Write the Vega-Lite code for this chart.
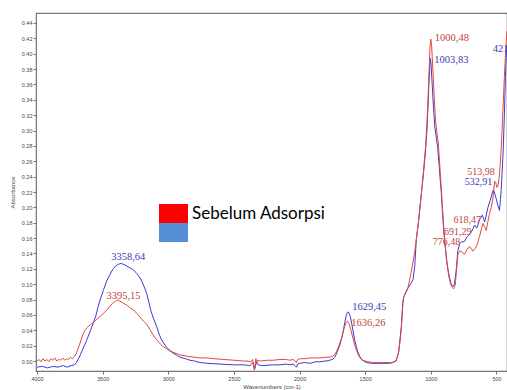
{
  "$schema": "https://vega.github.io/schema/vega-lite/v6.json",
  "width": 471,
  "height": 358,
  "autosize": "none",
  "padding": {"left": 36, "top": 13, "right": 0, "bottom": 19},
  "background": "white",
  "config": {"view": {"stroke": "#777", "strokeWidth": 1.2}, "font": "Liberation Sans"},
  "datasets": {
    "spectra": [
      {"s":"Sesudah Adsorpsi","wn":4000,"A":-0.008},{"s":"Sesudah Adsorpsi","wn":3960,"A":-0.007},{"s":"Sesudah Adsorpsi","wn":3920,"A":-0.009},{"s":"Sesudah Adsorpsi","wn":3880,"A":-0.007},{"s":"Sesudah Adsorpsi","wn":3840,"A":-0.008},{"s":"Sesudah Adsorpsi","wn":3800,"A":-0.006},{"s":"Sesudah Adsorpsi","wn":3770,"A":-0.008},{"s":"Sesudah Adsorpsi","wn":3740,"A":-0.006},{"s":"Sesudah Adsorpsi","wn":3715,"A":-0.005},{"s":"Sesudah Adsorpsi","wn":3700,"A":-0.002},{"s":"Sesudah Adsorpsi","wn":3688,"A":0.002},{"s":"Sesudah Adsorpsi","wn":3670,"A":0.008},{"s":"Sesudah Adsorpsi","wn":3658,"A":0.013},{"s":"Sesudah Adsorpsi","wn":3640,"A":0.02},{"s":"Sesudah Adsorpsi","wn":3622,"A":0.027},{"s":"Sesudah Adsorpsi","wn":3597,"A":0.038},{"s":"Sesudah Adsorpsi","wn":3572,"A":0.049},{"s":"Sesudah Adsorpsi","wn":3550,"A":0.06},{"s":"Sesudah Adsorpsi","wn":3536,"A":0.07},{"s":"Sesudah Adsorpsi","wn":3515,"A":0.082},{"s":"Sesudah Adsorpsi","wn":3495,"A":0.092},{"s":"Sesudah Adsorpsi","wn":3470,"A":0.104},{"s":"Sesudah Adsorpsi","wn":3444,"A":0.113},{"s":"Sesudah Adsorpsi","wn":3420,"A":0.12},{"s":"Sesudah Adsorpsi","wn":3400,"A":0.124},{"s":"Sesudah Adsorpsi","wn":3380,"A":0.126},{"s":"Sesudah Adsorpsi","wn":3358.64,"A":0.127},{"s":"Sesudah Adsorpsi","wn":3330,"A":0.125},{"s":"Sesudah Adsorpsi","wn":3300,"A":0.122},{"s":"Sesudah Adsorpsi","wn":3270,"A":0.119},{"s":"Sesudah Adsorpsi","wn":3240,"A":0.114},{"s":"Sesudah Adsorpsi","wn":3215,"A":0.108},{"s":"Sesudah Adsorpsi","wn":3200,"A":0.103},{"s":"Sesudah Adsorpsi","wn":3180,"A":0.095},{"s":"Sesudah Adsorpsi","wn":3165,"A":0.088},{"s":"Sesudah Adsorpsi","wn":3148,"A":0.076},{"s":"Sesudah Adsorpsi","wn":3132,"A":0.065},{"s":"Sesudah Adsorpsi","wn":3110,"A":0.054},{"s":"Sesudah Adsorpsi","wn":3089,"A":0.045},{"s":"Sesudah Adsorpsi","wn":3070,"A":0.035},{"s":"Sesudah Adsorpsi","wn":3056,"A":0.029},{"s":"Sesudah Adsorpsi","wn":3035,"A":0.023},{"s":"Sesudah Adsorpsi","wn":3013,"A":0.018},{"s":"Sesudah Adsorpsi","wn":2990,"A":0.014},{"s":"Sesudah Adsorpsi","wn":2970,"A":0.011},{"s":"Sesudah Adsorpsi","wn":2940,"A":0.008},{"s":"Sesudah Adsorpsi","wn":2912,"A":0.005},{"s":"Sesudah Adsorpsi","wn":2870,"A":0.003},{"s":"Sesudah Adsorpsi","wn":2836,"A":0.001},{"s":"Sesudah Adsorpsi","wn":2800,"A":0.0},{"s":"Sesudah Adsorpsi","wn":2760,"A":-0.002},{"s":"Sesudah Adsorpsi","wn":2700,"A":-0.003},{"s":"Sesudah Adsorpsi","wn":2607,"A":-0.004},{"s":"Sesudah Adsorpsi","wn":2500,"A":-0.005},{"s":"Sesudah Adsorpsi","wn":2420,"A":-0.005},{"s":"Sesudah Adsorpsi","wn":2379,"A":-0.006},{"s":"Sesudah Adsorpsi","wn":2365,"A":-0.004},{"s":"Sesudah Adsorpsi","wn":2356,"A":-0.002},{"s":"Sesudah Adsorpsi","wn":2348,"A":-0.008},{"s":"Sesudah Adsorpsi","wn":2341,"A":-0.01},{"s":"Sesudah Adsorpsi","wn":2333,"A":-0.004},{"s":"Sesudah Adsorpsi","wn":2326,"A":-0.002},{"s":"Sesudah Adsorpsi","wn":2315,"A":-0.005},{"s":"Sesudah Adsorpsi","wn":2288,"A":-0.006},{"s":"Sesudah Adsorpsi","wn":2200,"A":-0.005},{"s":"Sesudah Adsorpsi","wn":2151,"A":-0.005},{"s":"Sesudah Adsorpsi","wn":2100,"A":-0.004},{"s":"Sesudah Adsorpsi","wn":2075,"A":-0.005},{"s":"Sesudah Adsorpsi","wn":2050,"A":-0.004},{"s":"Sesudah Adsorpsi","wn":2035,"A":-0.006},{"s":"Sesudah Adsorpsi","wn":2024,"A":-0.008},{"s":"Sesudah Adsorpsi","wn":2015,"A":-0.004},{"s":"Sesudah Adsorpsi","wn":1999,"A":-0.003},{"s":"Sesudah Adsorpsi","wn":1960,"A":-0.002},{"s":"Sesudah Adsorpsi","wn":1922,"A":-0.003},{"s":"Sesudah Adsorpsi","wn":1880,"A":-0.001},{"s":"Sesudah Adsorpsi","wn":1846,"A":-0.001},{"s":"Sesudah Adsorpsi","wn":1800,"A":0.0},{"s":"Sesudah Adsorpsi","wn":1771,"A":0.001},{"s":"Sesudah Adsorpsi","wn":1750,"A":0.002},{"s":"Sesudah Adsorpsi","wn":1732,"A":0.005},{"s":"Sesudah Adsorpsi","wn":1720,"A":0.009},{"s":"Sesudah Adsorpsi","wn":1709,"A":0.014},{"s":"Sesudah Adsorpsi","wn":1695,"A":0.02},{"s":"Sesudah Adsorpsi","wn":1681,"A":0.028},{"s":"Sesudah Adsorpsi","wn":1668,"A":0.038},{"s":"Sesudah Adsorpsi","wn":1656,"A":0.05},{"s":"Sesudah Adsorpsi","wn":1645,"A":0.059},{"s":"Sesudah Adsorpsi","wn":1636,"A":0.063},{"s":"Sesudah Adsorpsi","wn":1629.45,"A":0.064},{"s":"Sesudah Adsorpsi","wn":1620,"A":0.061},{"s":"Sesudah Adsorpsi","wn":1611,"A":0.056},{"s":"Sesudah Adsorpsi","wn":1602,"A":0.048},{"s":"Sesudah Adsorpsi","wn":1593,"A":0.039},{"s":"Sesudah Adsorpsi","wn":1580,"A":0.027},{"s":"Sesudah Adsorpsi","wn":1567,"A":0.018},{"s":"Sesudah Adsorpsi","wn":1555,"A":0.011},{"s":"Sesudah Adsorpsi","wn":1542,"A":0.006},{"s":"Sesudah Adsorpsi","wn":1527,"A":0.002},{"s":"Sesudah Adsorpsi","wn":1512,"A":0.0},{"s":"Sesudah Adsorpsi","wn":1490,"A":-0.002},{"s":"Sesudah Adsorpsi","wn":1450,"A":-0.003},{"s":"Sesudah Adsorpsi","wn":1390,"A":-0.003},{"s":"Sesudah Adsorpsi","wn":1314,"A":-0.003},{"s":"Sesudah Adsorpsi","wn":1290,"A":-0.002},{"s":"Sesudah Adsorpsi","wn":1265,"A":0.0},{"s":"Sesudah Adsorpsi","wn":1245,"A":0.012},{"s":"Sesudah Adsorpsi","wn":1225,"A":0.045},{"s":"Sesudah Adsorpsi","wn":1213,"A":0.078},{"s":"Sesudah Adsorpsi","wn":1205,"A":0.084},{"s":"Sesudah Adsorpsi","wn":1190,"A":0.089},{"s":"Sesudah Adsorpsi","wn":1174,"A":0.095},{"s":"Sesudah Adsorpsi","wn":1155,"A":0.1},{"s":"Sesudah Adsorpsi","wn":1136,"A":0.106},{"s":"Sesudah Adsorpsi","wn":1123,"A":0.123},{"s":"Sesudah Adsorpsi","wn":1111,"A":0.158},{"s":"Sesudah Adsorpsi","wn":1095,"A":0.18},{"s":"Sesudah Adsorpsi","wn":1080,"A":0.205},{"s":"Sesudah Adsorpsi","wn":1065,"A":0.23},{"s":"Sesudah Adsorpsi","wn":1050,"A":0.255},{"s":"Sesudah Adsorpsi","wn":1040,"A":0.275},{"s":"Sesudah Adsorpsi","wn":1030,"A":0.3},{"s":"Sesudah Adsorpsi","wn":1022,"A":0.33},{"s":"Sesudah Adsorpsi","wn":1015,"A":0.36},{"s":"Sesudah Adsorpsi","wn":1008,"A":0.385},{"s":"Sesudah Adsorpsi","wn":1003.83,"A":0.394},{"s":"Sesudah Adsorpsi","wn":998,"A":0.385},{"s":"Sesudah Adsorpsi","wn":990,"A":0.36},{"s":"Sesudah Adsorpsi","wn":980,"A":0.33},{"s":"Sesudah Adsorpsi","wn":970,"A":0.305},{"s":"Sesudah Adsorpsi","wn":958,"A":0.29},{"s":"Sesudah Adsorpsi","wn":948,"A":0.278},{"s":"Sesudah Adsorpsi","wn":935,"A":0.25},{"s":"Sesudah Adsorpsi","wn":922,"A":0.222},{"s":"Sesudah Adsorpsi","wn":910,"A":0.19},{"s":"Sesudah Adsorpsi","wn":900,"A":0.165},{"s":"Sesudah Adsorpsi","wn":890,"A":0.148},{"s":"Sesudah Adsorpsi","wn":875,"A":0.125},{"s":"Sesudah Adsorpsi","wn":860,"A":0.11},{"s":"Sesudah Adsorpsi","wn":845,"A":0.1},{"s":"Sesudah Adsorpsi","wn":832,"A":0.097},{"s":"Sesudah Adsorpsi","wn":820,"A":0.1},{"s":"Sesudah Adsorpsi","wn":806,"A":0.12},{"s":"Sesudah Adsorpsi","wn":794,"A":0.144},{"s":"Sesudah Adsorpsi","wn":780,"A":0.153},{"s":"Sesudah Adsorpsi","wn":768,"A":0.155},{"s":"Sesudah Adsorpsi","wn":755,"A":0.155},{"s":"Sesudah Adsorpsi","wn":743,"A":0.156},{"s":"Sesudah Adsorpsi","wn":730,"A":0.16},{"s":"Sesudah Adsorpsi","wn":718,"A":0.163},{"s":"Sesudah Adsorpsi","wn":705,"A":0.165},{"s":"Sesudah Adsorpsi","wn":692,"A":0.168},{"s":"Sesudah Adsorpsi","wn":680,"A":0.172},{"s":"Sesudah Adsorpsi","wn":667,"A":0.177},{"s":"Sesudah Adsorpsi","wn":650,"A":0.173},{"s":"Sesudah Adsorpsi","wn":640,"A":0.178},{"s":"Sesudah Adsorpsi","wn":629,"A":0.184},{"s":"Sesudah Adsorpsi","wn":618,"A":0.187},{"s":"Sesudah Adsorpsi","wn":608,"A":0.19},{"s":"Sesudah Adsorpsi","wn":598,"A":0.185},{"s":"Sesudah Adsorpsi","wn":590,"A":0.181},{"s":"Sesudah Adsorpsi","wn":578,"A":0.19},{"s":"Sesudah Adsorpsi","wn":565,"A":0.2},{"s":"Sesudah Adsorpsi","wn":552,"A":0.207},{"s":"Sesudah Adsorpsi","wn":540,"A":0.214},{"s":"Sesudah Adsorpsi","wn":530,"A":0.22},{"s":"Sesudah Adsorpsi","wn":522,"A":0.223},{"s":"Sesudah Adsorpsi","wn":512,"A":0.217},{"s":"Sesudah Adsorpsi","wn":502,"A":0.211},{"s":"Sesudah Adsorpsi","wn":490,"A":0.203},{"s":"Sesudah Adsorpsi","wn":477,"A":0.196},{"s":"Sesudah Adsorpsi","wn":470,"A":0.21},{"s":"Sesudah Adsorpsi","wn":464,"A":0.223},{"s":"Sesudah Adsorpsi","wn":450,"A":0.27},{"s":"Sesudah Adsorpsi","wn":440,"A":0.32},{"s":"Sesudah Adsorpsi","wn":432,"A":0.37},{"s":"Sesudah Adsorpsi","wn":426,"A":0.395},{"s":"Sesudah Adsorpsi","wn":421.72,"A":0.41},
      {"s":"Sebelum Adsorpsi","wn":4000,"A":0.0},{"s":"Sebelum Adsorpsi","wn":3985,"A":0.002},{"s":"Sebelum Adsorpsi","wn":3970,"A":-0.001},{"s":"Sebelum Adsorpsi","wn":3955,"A":0.003},{"s":"Sebelum Adsorpsi","wn":3940,"A":0.0},{"s":"Sebelum Adsorpsi","wn":3925,"A":0.002},{"s":"Sebelum Adsorpsi","wn":3910,"A":-0.001},{"s":"Sebelum Adsorpsi","wn":3895,"A":0.003},{"s":"Sebelum Adsorpsi","wn":3880,"A":0.001},{"s":"Sebelum Adsorpsi","wn":3865,"A":0.004},{"s":"Sebelum Adsorpsi","wn":3850,"A":0.0},{"s":"Sebelum Adsorpsi","wn":3835,"A":0.002},{"s":"Sebelum Adsorpsi","wn":3820,"A":0.001},{"s":"Sebelum Adsorpsi","wn":3805,"A":0.004},{"s":"Sebelum Adsorpsi","wn":3790,"A":0.001},{"s":"Sebelum Adsorpsi","wn":3775,"A":0.003},{"s":"Sebelum Adsorpsi","wn":3760,"A":0.002},{"s":"Sebelum Adsorpsi","wn":3745,"A":0.005},{"s":"Sebelum Adsorpsi","wn":3730,"A":0.003},{"s":"Sebelum Adsorpsi","wn":3715,"A":0.006},{"s":"Sebelum Adsorpsi","wn":3700,"A":0.01},{"s":"Sebelum Adsorpsi","wn":3690,"A":0.015},{"s":"Sebelum Adsorpsi","wn":3675,"A":0.022},{"s":"Sebelum Adsorpsi","wn":3660,"A":0.03},{"s":"Sebelum Adsorpsi","wn":3645,"A":0.037},{"s":"Sebelum Adsorpsi","wn":3630,"A":0.041},{"s":"Sebelum Adsorpsi","wn":3622,"A":0.043},{"s":"Sebelum Adsorpsi","wn":3610,"A":0.045},{"s":"Sebelum Adsorpsi","wn":3595,"A":0.047},{"s":"Sebelum Adsorpsi","wn":3580,"A":0.049},{"s":"Sebelum Adsorpsi","wn":3560,"A":0.052},{"s":"Sebelum Adsorpsi","wn":3540,"A":0.055},{"s":"Sebelum Adsorpsi","wn":3520,"A":0.058},{"s":"Sebelum Adsorpsi","wn":3495,"A":0.062},{"s":"Sebelum Adsorpsi","wn":3470,"A":0.066},{"s":"Sebelum Adsorpsi","wn":3450,"A":0.07},{"s":"Sebelum Adsorpsi","wn":3425,"A":0.075},{"s":"Sebelum Adsorpsi","wn":3410,"A":0.077},{"s":"Sebelum Adsorpsi","wn":3395.15,"A":0.079},{"s":"Sebelum Adsorpsi","wn":3380,"A":0.079},{"s":"Sebelum Adsorpsi","wn":3360,"A":0.077},{"s":"Sebelum Adsorpsi","wn":3330,"A":0.074},{"s":"Sebelum Adsorpsi","wn":3310,"A":0.072},{"s":"Sebelum Adsorpsi","wn":3290,"A":0.069},{"s":"Sebelum Adsorpsi","wn":3270,"A":0.067},{"s":"Sebelum Adsorpsi","wn":3250,"A":0.064},{"s":"Sebelum Adsorpsi","wn":3230,"A":0.06},{"s":"Sebelum Adsorpsi","wn":3210,"A":0.056},{"s":"Sebelum Adsorpsi","wn":3190,"A":0.052},{"s":"Sebelum Adsorpsi","wn":3165,"A":0.048},{"s":"Sebelum Adsorpsi","wn":3140,"A":0.041},{"s":"Sebelum Adsorpsi","wn":3120,"A":0.035},{"s":"Sebelum Adsorpsi","wn":3100,"A":0.03},{"s":"Sebelum Adsorpsi","wn":3080,"A":0.026},{"s":"Sebelum Adsorpsi","wn":3060,"A":0.022},{"s":"Sebelum Adsorpsi","wn":3040,"A":0.019},{"s":"Sebelum Adsorpsi","wn":3013,"A":0.016},{"s":"Sebelum Adsorpsi","wn":2990,"A":0.013},{"s":"Sebelum Adsorpsi","wn":2973,"A":0.012},{"s":"Sebelum Adsorpsi","wn":2940,"A":0.01},{"s":"Sebelum Adsorpsi","wn":2912,"A":0.008},{"s":"Sebelum Adsorpsi","wn":2880,"A":0.007},{"s":"Sebelum Adsorpsi","wn":2850,"A":0.006},{"s":"Sebelum Adsorpsi","wn":2800,"A":0.005},{"s":"Sebelum Adsorpsi","wn":2760,"A":0.004},{"s":"Sebelum Adsorpsi","wn":2700,"A":0.004},{"s":"Sebelum Adsorpsi","wn":2650,"A":0.003},{"s":"Sebelum Adsorpsi","wn":2580,"A":0.002},{"s":"Sebelum Adsorpsi","wn":2500,"A":0.001},{"s":"Sebelum Adsorpsi","wn":2430,"A":0.0},{"s":"Sebelum Adsorpsi","wn":2400,"A":0.0},{"s":"Sebelum Adsorpsi","wn":2370,"A":-0.001},{"s":"Sebelum Adsorpsi","wn":2358,"A":0.002},{"s":"Sebelum Adsorpsi","wn":2350,"A":-0.006},{"s":"Sebelum Adsorpsi","wn":2345,"A":-0.012},{"s":"Sebelum Adsorpsi","wn":2338,"A":-0.004},{"s":"Sebelum Adsorpsi","wn":2333,"A":0.003},{"s":"Sebelum Adsorpsi","wn":2326,"A":-0.003},{"s":"Sebelum Adsorpsi","wn":2318,"A":0.001},{"s":"Sebelum Adsorpsi","wn":2300,"A":0.0},{"s":"Sebelum Adsorpsi","wn":2250,"A":0.001},{"s":"Sebelum Adsorpsi","wn":2200,"A":0.001},{"s":"Sebelum Adsorpsi","wn":2150,"A":0.002},{"s":"Sebelum Adsorpsi","wn":2100,"A":0.002},{"s":"Sebelum Adsorpsi","wn":2075,"A":0.001},{"s":"Sebelum Adsorpsi","wn":2050,"A":0.002},{"s":"Sebelum Adsorpsi","wn":2035,"A":0.0},{"s":"Sebelum Adsorpsi","wn":2025,"A":-0.002},{"s":"Sebelum Adsorpsi","wn":2015,"A":0.002},{"s":"Sebelum Adsorpsi","wn":2000,"A":0.003},{"s":"Sebelum Adsorpsi","wn":1960,"A":0.003},{"s":"Sebelum Adsorpsi","wn":1920,"A":0.004},{"s":"Sebelum Adsorpsi","wn":1880,"A":0.004},{"s":"Sebelum Adsorpsi","wn":1850,"A":0.004},{"s":"Sebelum Adsorpsi","wn":1800,"A":0.005},{"s":"Sebelum Adsorpsi","wn":1770,"A":0.005},{"s":"Sebelum Adsorpsi","wn":1750,"A":0.006},{"s":"Sebelum Adsorpsi","wn":1735,"A":0.008},{"s":"Sebelum Adsorpsi","wn":1720,"A":0.012},{"s":"Sebelum Adsorpsi","wn":1705,"A":0.018},{"s":"Sebelum Adsorpsi","wn":1690,"A":0.025},{"s":"Sebelum Adsorpsi","wn":1675,"A":0.033},{"s":"Sebelum Adsorpsi","wn":1665,"A":0.04},{"s":"Sebelum Adsorpsi","wn":1655,"A":0.046},{"s":"Sebelum Adsorpsi","wn":1645,"A":0.05},{"s":"Sebelum Adsorpsi","wn":1636.26,"A":0.052},{"s":"Sebelum Adsorpsi","wn":1628,"A":0.05},{"s":"Sebelum Adsorpsi","wn":1620,"A":0.047},{"s":"Sebelum Adsorpsi","wn":1610,"A":0.041},{"s":"Sebelum Adsorpsi","wn":1600,"A":0.034},{"s":"Sebelum Adsorpsi","wn":1588,"A":0.026},{"s":"Sebelum Adsorpsi","wn":1575,"A":0.018},{"s":"Sebelum Adsorpsi","wn":1562,"A":0.012},{"s":"Sebelum Adsorpsi","wn":1550,"A":0.007},{"s":"Sebelum Adsorpsi","wn":1535,"A":0.003},{"s":"Sebelum Adsorpsi","wn":1520,"A":0.001},{"s":"Sebelum Adsorpsi","wn":1500,"A":0.0},{"s":"Sebelum Adsorpsi","wn":1480,"A":-0.001},{"s":"Sebelum Adsorpsi","wn":1440,"A":-0.002},{"s":"Sebelum Adsorpsi","wn":1400,"A":-0.002},{"s":"Sebelum Adsorpsi","wn":1350,"A":-0.002},{"s":"Sebelum Adsorpsi","wn":1300,"A":-0.002},{"s":"Sebelum Adsorpsi","wn":1280,"A":-0.001},{"s":"Sebelum Adsorpsi","wn":1265,"A":0.001},{"s":"Sebelum Adsorpsi","wn":1255,"A":0.005},{"s":"Sebelum Adsorpsi","wn":1245,"A":0.012},{"s":"Sebelum Adsorpsi","wn":1235,"A":0.025},{"s":"Sebelum Adsorpsi","wn":1225,"A":0.042},{"s":"Sebelum Adsorpsi","wn":1213,"A":0.075},{"s":"Sebelum Adsorpsi","wn":1205,"A":0.084},{"s":"Sebelum Adsorpsi","wn":1190,"A":0.09},{"s":"Sebelum Adsorpsi","wn":1174,"A":0.096},{"s":"Sebelum Adsorpsi","wn":1156,"A":0.11},{"s":"Sebelum Adsorpsi","wn":1140,"A":0.125},{"s":"Sebelum Adsorpsi","wn":1125,"A":0.14},{"s":"Sebelum Adsorpsi","wn":1111,"A":0.158},{"s":"Sebelum Adsorpsi","wn":1095,"A":0.18},{"s":"Sebelum Adsorpsi","wn":1080,"A":0.205},{"s":"Sebelum Adsorpsi","wn":1065,"A":0.23},{"s":"Sebelum Adsorpsi","wn":1050,"A":0.26},{"s":"Sebelum Adsorpsi","wn":1040,"A":0.28},{"s":"Sebelum Adsorpsi","wn":1030,"A":0.31},{"s":"Sebelum Adsorpsi","wn":1022,"A":0.34},{"s":"Sebelum Adsorpsi","wn":1013,"A":0.38},{"s":"Sebelum Adsorpsi","wn":1006,"A":0.41},{"s":"Sebelum Adsorpsi","wn":1000.48,"A":0.419},{"s":"Sebelum Adsorpsi","wn":994,"A":0.41},{"s":"Sebelum Adsorpsi","wn":985,"A":0.38},{"s":"Sebelum Adsorpsi","wn":975,"A":0.345},{"s":"Sebelum Adsorpsi","wn":965,"A":0.315},{"s":"Sebelum Adsorpsi","wn":955,"A":0.298},{"s":"Sebelum Adsorpsi","wn":944,"A":0.285},{"s":"Sebelum Adsorpsi","wn":932,"A":0.255},{"s":"Sebelum Adsorpsi","wn":920,"A":0.223},{"s":"Sebelum Adsorpsi","wn":908,"A":0.19},{"s":"Sebelum Adsorpsi","wn":895,"A":0.158},{"s":"Sebelum Adsorpsi","wn":880,"A":0.13},{"s":"Sebelum Adsorpsi","wn":865,"A":0.112},{"s":"Sebelum Adsorpsi","wn":850,"A":0.1},{"s":"Sebelum Adsorpsi","wn":838,"A":0.096},{"s":"Sebelum Adsorpsi","wn":827,"A":0.094},{"s":"Sebelum Adsorpsi","wn":815,"A":0.098},{"s":"Sebelum Adsorpsi","wn":806,"A":0.115},{"s":"Sebelum Adsorpsi","wn":794,"A":0.139},{"s":"Sebelum Adsorpsi","wn":780,"A":0.143},{"s":"Sebelum Adsorpsi","wn":768,"A":0.143},{"s":"Sebelum Adsorpsi","wn":755,"A":0.14},{"s":"Sebelum Adsorpsi","wn":743,"A":0.139},{"s":"Sebelum Adsorpsi","wn":725,"A":0.145},{"s":"Sebelum Adsorpsi","wn":705,"A":0.149},{"s":"Sebelum Adsorpsi","wn":692,"A":0.146},{"s":"Sebelum Adsorpsi","wn":680,"A":0.143},{"s":"Sebelum Adsorpsi","wn":665,"A":0.146},{"s":"Sebelum Adsorpsi","wn":650,"A":0.15},{"s":"Sebelum Adsorpsi","wn":640,"A":0.156},{"s":"Sebelum Adsorpsi","wn":629,"A":0.162},{"s":"Sebelum Adsorpsi","wn":615,"A":0.172},{"s":"Sebelum Adsorpsi","wn":604,"A":0.179},{"s":"Sebelum Adsorpsi","wn":590,"A":0.174},{"s":"Sebelum Adsorpsi","wn":578,"A":0.17},{"s":"Sebelum Adsorpsi","wn":565,"A":0.182},{"s":"Sebelum Adsorpsi","wn":553,"A":0.192},{"s":"Sebelum Adsorpsi","wn":540,"A":0.2},{"s":"Sebelum Adsorpsi","wn":528,"A":0.211},{"s":"Sebelum Adsorpsi","wn":520,"A":0.225},{"s":"Sebelum Adsorpsi","wn":513.98,"A":0.234},{"s":"Sebelum Adsorpsi","wn":505,"A":0.232},{"s":"Sebelum Adsorpsi","wn":498,"A":0.226},{"s":"Sebelum Adsorpsi","wn":490,"A":0.227},{"s":"Sebelum Adsorpsi","wn":480,"A":0.238},{"s":"Sebelum Adsorpsi","wn":470,"A":0.26},{"s":"Sebelum Adsorpsi","wn":460,"A":0.29},{"s":"Sebelum Adsorpsi","wn":450,"A":0.33},{"s":"Sebelum Adsorpsi","wn":440,"A":0.37},{"s":"Sebelum Adsorpsi","wn":430,"A":0.405},{"s":"Sebelum Adsorpsi","wn":420,"A":0.43}
    ],
    "labels": [
      {"label":"3358,64","s":"Sesudah Adsorpsi","wn":3358.64,"A":0.1357},
      {"label":"3395,15","s":"Sebelum Adsorpsi","wn":3395.15,"A":0.0845},
      {"label":"1629,45","s":"Sesudah Adsorpsi","wn":1629.45,"A":0.0698},
      {"label":"1636,26","s":"Sebelum Adsorpsi","wn":1636.26,"A":0.0497},
      {"label":"1000,48","s":"Sebelum Adsorpsi","wn":1000.48,"A":0.42},
      {"label":"1003,83","s":"Sesudah Adsorpsi","wn":1003.83,"A":0.392},
      {"label":"421,72","s":"Sesudah Adsorpsi","wn":421.72,"A":0.406},
      {"label":"513,98","s":"Sebelum Adsorpsi","wn":513.98,"A":0.2455},
      {"label":"532,91","s":"Sesudah Adsorpsi","wn":532.91,"A":0.2325},
      {"label":"618,47","s":"Sebelum Adsorpsi","wn":618.47,"A":0.1835},
      {"label":"691,29","s":"Sebelum Adsorpsi","wn":691.29,"A":0.1682},
      {"label":"776,48","s":"Sebelum Adsorpsi","wn":776.48,"A":0.1552}
    ]
  },
  "layer": [
    {
      "data": {"name": "spectra"},
      "mark": {"type": "line", "strokeWidth": 1, "clip": true},
      "encoding": {
        "x": {
          "field": "wn", "type": "quantitative",
          "scale": {"domain": [420, 4008], "reverse": true, "nice": false, "zero": false},
          "axis": {
            "values": [4000, 3500, 3000, 2500, 2000, 1500, 1000, 500], "tickCount": 20,
            "format": "d", "grid": false, "labelOverlap": false,
            "labelFontSize": 5.5, "labelColor": "#444", "labelPadding": 2,
            "tickSize": 3, "tickColor": "#777", "domainColor": "#777", "domainDash": [1, 1.5],
            "title": "Wavenumbers (cm-1)", "titleFontSize": 6, "titleFontWeight": "normal",
            "titleColor": "#444", "titlePadding": 2
          }
        },
        "y": {
          "field": "A", "type": "quantitative",
          "scale": {"domain": [-0.013, 0.453], "nice": false, "zero": false},
          "axis": {
            "values": [0, 0.02, 0.04, 0.06, 0.08, 0.1, 0.12, 0.14, 0.16, 0.18, 0.2, 0.22, 0.24, 0.26, 0.28, 0.3, 0.32, 0.34, 0.36, 0.38, 0.4, 0.42, 0.44],
            "tickCount": 30,
            "format": ".2f", "grid": false, "labelOverlap": false,
            "labelFontSize": 5.5, "labelColor": "#444", "labelPadding": 1,
            "tickSize": 3, "tickColor": "#777", "domainColor": "#777", "domainDash": [1, 1.5],
            "title": "Absorbance", "titleFontSize": 6, "titleFontWeight": "normal",
            "titleColor": "#444", "titlePadding": 6
          }
        },
        "color": {
          "field": "s", "type": "nominal",
          "scale": {"domain": ["Sebelum Adsorpsi", "Sesudah Adsorpsi"], "range": ["#e2483f", "#3a3ad4"]},
          "legend": {
            "orient": "none", "legendX": 123, "legendY": 186, "title": null, "padding": 0,
            "symbolType": "M-1,-0.655L1,-0.655L1,0.655L-1,0.655Z", "symbolSize": 841,
            "symbolStrokeWidth": 0, "rowPadding": 0,
            "labelFont": "Lato", "labelFontSize": 17, "labelColor": "black", "labelOffset": 4,
            "labelExpr": "datum.value == 'Sebelum Adsorpsi' ? datum.value : ''",
            "encode": {"symbols": {"update": {
              "fill": {"signal": "datum.value == 'Sebelum Adsorpsi' ? '#ff0000' : '#558ed5'"},
              "shape": {"signal": "datum.value == 'Sebelum Adsorpsi' ? 'M-1,-0.655L1,-0.655L1,0.655L-1,0.655Z' : 'M-1,-1L1,-1L1,0.31L-1,0.31Z'"},
              "fillOpacity": {"value": 1}, "opacity": {"value": 1}, "strokeWidth": {"value": 0}}}}
          }
        }
      }
    },
    {
      "data": {"name": "labels"},
      "transform": [{"filter": {"field": "label", "oneOf": ["3358,64", "3395,15"]}}],
      "mark": {"type": "text", "align": "center", "baseline": "middle", "dx": 7, "font": "Liberation Serif", "fontSize": 10.5},
      "encoding": {
        "x": {"field": "wn", "type": "quantitative"},
        "y": {"field": "A", "type": "quantitative"},
        "text": {"field": "label"},
        "color": {"field": "s", "type": "nominal", "scale": {"domain": ["Sebelum Adsorpsi", "Sesudah Adsorpsi"], "range": ["#c0443e", "#3b3bb4"]}, "legend": null}
      }
    },
    {
      "data": {"name": "labels"},
      "transform": [{"filter": {"field": "label", "oneOf": ["1629,45", "1636,26", "1000,48", "1003,83"]}}],
      "mark": {"type": "text", "align": "left", "baseline": "middle", "dx": 4, "font": "Liberation Serif", "fontSize": 10.5},
      "encoding": {
        "x": {"field": "wn", "type": "quantitative"},
        "y": {"field": "A", "type": "quantitative"},
        "text": {"field": "label"},
        "color": {"field": "s", "type": "nominal", "scale": {"domain": ["Sebelum Adsorpsi", "Sesudah Adsorpsi"], "range": ["#c0443e", "#3b3bb4"]}, "legend": null}
      }
    },
    {
      "data": {"name": "labels"},
      "transform": [{"filter": {"field": "label", "oneOf": ["421,72"]}}],
      "mark": {"type": "text", "align": "left", "baseline": "middle", "dx": -14, "font": "Liberation Serif", "fontSize": 10.5},
      "encoding": {
        "x": {"field": "wn", "type": "quantitative"},
        "y": {"field": "A", "type": "quantitative"},
        "text": {"field": "label"},
        "color": {"field": "s", "type": "nominal", "scale": {"domain": ["Sebelum Adsorpsi", "Sesudah Adsorpsi"], "range": ["#c0443e", "#3b3bb4"]}, "legend": null}
      }
    },
    {
      "data": {"name": "labels"},
      "transform": [{"filter": {"field": "label", "oneOf": ["513,98", "532,91", "618,47", "691,29", "776,48"]}}],
      "mark": {"type": "text", "align": "right", "baseline": "middle", "dx": 0, "font": "Liberation Serif", "fontSize": 10},
      "encoding": {
        "x": {"field": "wn", "type": "quantitative"},
        "y": {"field": "A", "type": "quantitative"},
        "text": {"field": "label"},
        "color": {"field": "s", "type": "nominal", "scale": {"domain": ["Sebelum Adsorpsi", "Sesudah Adsorpsi"], "range": ["#c0443e", "#3b3bb4"]}, "legend": null}
      }
    }
  ],
  "resolve": {"scale": {"color": "independent"}}
}
